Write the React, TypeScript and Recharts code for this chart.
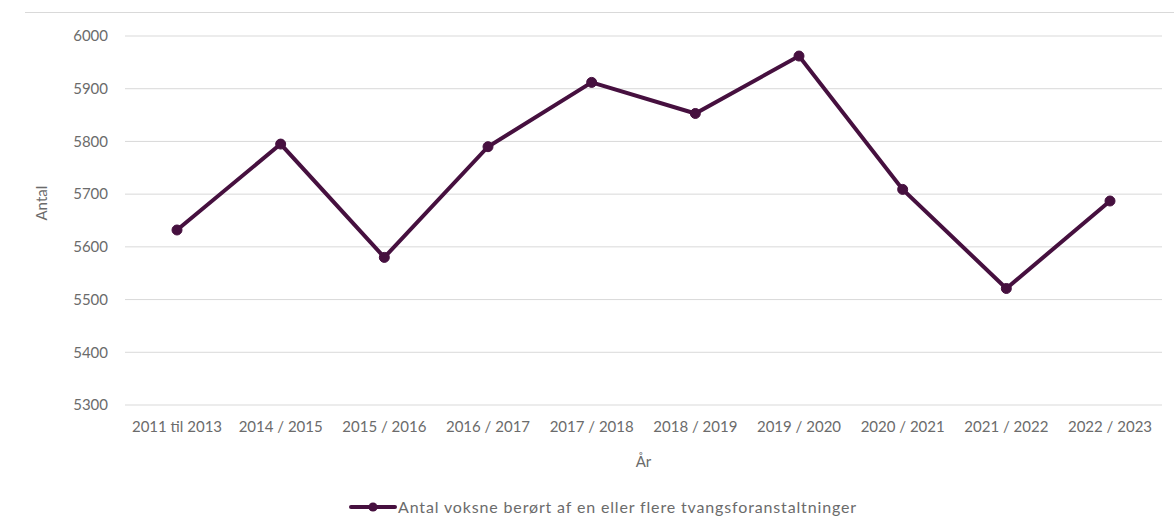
import { CartesianGrid, Legend, Line, LineChart, XAxis, YAxis } from 'recharts';

const periods = [
  '2011 til 2013',
  '2014 / 2015',
  '2015 / 2016',
  '2016 / 2017',
  '2017 / 2018',
  '2018 / 2019',
  '2019 / 2020',
  '2020 / 2021',
  '2021 / 2022',
  '2022 / 2023',
];

const antal = [5632, 5795, 5580, 5790, 5912, 5853, 5962, 5709, 5521, 5687];

const yTicks = [5300, 5400, 5500, 5600, 5700, 5800, 5900, 6000];

const seriesName = 'Antal voksne berørt af en eller flere tvangsforanstaltninger';

const data = periods.map((period, i) => ({ period, antal: antal[i] }));

const lineColor = '#46103f';
const textColor = '#6b6b6b';
const font = 'Lato, "Open Sans", sans-serif';

function LegendContent() {
  return (
    <div style={{ display: 'flex', justifyContent: 'center', alignItems: 'center', fontFamily: font, fontSize: 16, letterSpacing: 0.85, color: textColor, paddingLeft: 44 }}>
      <svg width={48} height={12} style={{ marginRight: 1 }}>
        <line x1={2} y1={6} x2={46} y2={6} stroke={lineColor} strokeWidth={4} strokeLinecap="round" />
        <circle cx={24} cy={6} r={4.5} fill={lineColor} />
      </svg>
      <span>{seriesName}</span>
    </div>
  );
}

export default function App() {
  return (
    <div style={{ position: 'absolute', left: 0, top: 0, width: 1176, height: 526, background: '#fff' }}>
      <div style={{ position: 'absolute', left: 25, right: 2, top: 12, borderTop: '1px solid #d9d9d9' }} />
      <LineChart width={1176} height={526} data={data} margin={{ top: 36, right: 14, bottom: 0, left: 0 }}>
        <CartesianGrid vertical={false} stroke="#d9d9d9" />
        <XAxis
          dataKey="period"
          axisLine={false}
          tickLine={false}
          tickSize={0}
          tickMargin={16}
          height={92}
          interval={0}
          padding={{ left: 52, right: 52 }}
          tick={{ fill: textColor, fontSize: 15, fontFamily: font }}
          label={{ value: 'År', position: 'insideBottom', offset: 30, fill: textColor, fontSize: 15, fontFamily: font }}
        />
        <YAxis
          domain={[5300, 6000]}
          ticks={yTicks}
          axisLine={false}
          tickLine={false}
          tickSize={0}
          tickMargin={17}
          width={125}
          tick={{ fill: textColor, fontSize: 15, fontFamily: font }}
          label={{ value: 'Antal', angle: -90, position: 'insideLeft', offset: 42, fill: textColor, fontSize: 15, fontFamily: font }}
        />
        <Legend verticalAlign="bottom" height={29} content={<LegendContent />} />
        <Line
          type="linear"
          dataKey="antal"
          name={seriesName}
          stroke={lineColor}
          strokeWidth={4}
          dot={{ r: 5, fill: lineColor, stroke: lineColor, strokeWidth: 1 }}
          isAnimationActive={false}
        />
      </LineChart>
    </div>
  );
}
